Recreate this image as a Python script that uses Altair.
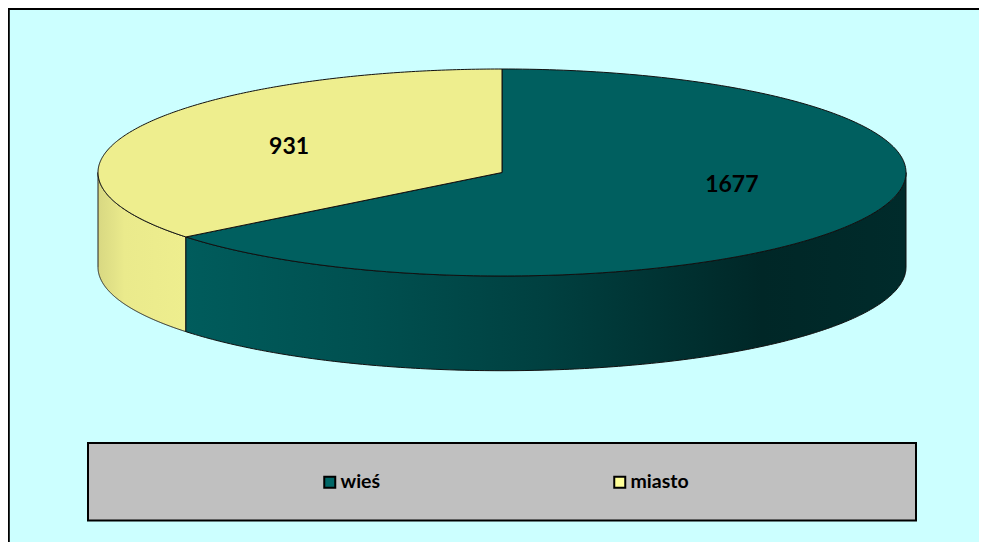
import numpy as np
import pandas as pd
import altair as alt

names = ["wieś", "miasto"]
values = [1677, 931]
legend_colors = ["#006666", "#FFFF99"]
top_colors = ["#005F5F", "#EEEE8E"]
label_x = [0.569, -0.527]
label_y = [-0.116, 0.251]
depth = 0.915

x_scale = alt.Scale(domain=[-1, 1], range=[90, 898], nice=False, zero=False)
y_scale = alt.Scale(domain=[-1, 1], range=[268, 61], nice=False, zero=False)

split = 2 * np.pi * values[0] / sum(values)


def wedge(start, end, name):
    t = np.linspace(start, end, 240)
    df = pd.DataFrame({"x": np.sin(t), "y": np.cos(t)})
    centre = pd.DataFrame({"x": [0.0], "y": [0.0]})
    out = pd.concat([centre, df, centre], ignore_index=True)
    out["i"] = range(len(out))
    out["name"] = name
    return out


def side(start, end):
    t = np.linspace(start, end, 200)
    return pd.DataFrame({"x": np.sin(t), "y": np.cos(t) - depth, "y2": np.cos(t)})


X = alt.X("x:Q", scale=x_scale, axis=None)
Y = alt.Y("y:Q", scale=y_scale, axis=None)

frame_left = alt.Chart().mark_rule(color="black", strokeWidth=2).encode(
    x=alt.value(0.8), y=alt.value(0), y2=alt.value(534))
frame_top = alt.Chart().mark_rule(color="black", strokeWidth=2).encode(
    y=alt.value(1), x=alt.value(0), x2=alt.value(971))

legend_box = alt.Chart().mark_rect(fill="#C0C0C0", stroke="black", strokeWidth=2).encode(
    x=alt.value(80), x2=alt.value(908), y=alt.value(435), y2=alt.value(512.5))

legend_src = pd.DataFrame({"name": names, "x": [0.0, 0.0], "y": [0.0, 0.0]})
legend_layer = alt.Chart(legend_src).mark_square(size=1, opacity=1).encode(
    x=X, y=Y,
    fill=alt.Fill("name:N",
                  scale=alt.Scale(domain=names, range=legend_colors),
                  legend=alt.Legend(
                      title=None, orient="none", legendX=312, legendY=464,
                      direction="horizontal", columns=2, columnPadding=229,
                      symbolType="square", symbolSize=121, symbolStrokeColor="black",
                      symbolStrokeWidth=2, labelOffset=1,
                      labelFont="Lato", labelFontWeight="bold", labelFontSize=19.5,
                      labelColor="black", padding=0)),
)

grad_yellow = alt.Gradient(
    gradient="linear", x1=0, x2=1, y1=0, y2=0,
    stops=[alt.GradientStop(offset=0, color="#D8D882"),
           alt.GradientStop(offset=0.3, color="#EAEA8C"),
           alt.GradientStop(offset=1, color="#EEEE8E")])
grad_teal = alt.Gradient(
    gradient="linear", x1=0, x2=1, y1=0, y2=0,
    stops=[alt.GradientStop(offset=0, color="#005C5C"),
           alt.GradientStop(offset=0.25, color="#005050"),
           alt.GradientStop(offset=0.5, color="#004040"),
           alt.GradientStop(offset=0.8, color="#002727"),
           alt.GradientStop(offset=1, color="#002B2B")])

Y2 = alt.Y2("y2:Q")
side_y = alt.Chart(side(split, 1.5 * np.pi)).mark_area(
    color=grad_yellow, stroke="#222222", strokeWidth=1, orient="vertical"
).encode(x=X, y=Y, y2=Y2)
side_t = alt.Chart(side(0.5 * np.pi, split)).mark_area(
    color=grad_teal, stroke="#111111", strokeWidth=1, orient="vertical"
).encode(x=X, y=Y, y2=Y2)

top_t = alt.Chart(wedge(0, split, names[0])).mark_line(
    fill=top_colors[0], stroke="#111111", strokeWidth=1, interpolate="linear"
).encode(x=X, y=Y, order="i:Q")
top_y = alt.Chart(wedge(split, 2 * np.pi, names[1])).mark_line(
    fill=top_colors[1], stroke="#111111", strokeWidth=1, interpolate="linear"
).encode(x=X, y=Y, order="i:Q")

labels = alt.Chart(pd.DataFrame({"x": label_x, "y": label_y, "v": values})).mark_text(
    font="Lato", fontWeight="bold", fontSize=23, color="black"
).encode(x=X, y=Y, text="v:Q")

chart = alt.layer(
    legend_layer, side_y, side_t, top_t, top_y, labels,
    legend_box, frame_left, frame_top
).properties(
    width=971, height=534, padding=0, background="#CCFFFF",
    autosize=alt.AutoSizeParams(type="none"),
).configure_view(strokeWidth=0)

chart.save("out.html", embed_options={"renderer": "svg", "actions": False})
